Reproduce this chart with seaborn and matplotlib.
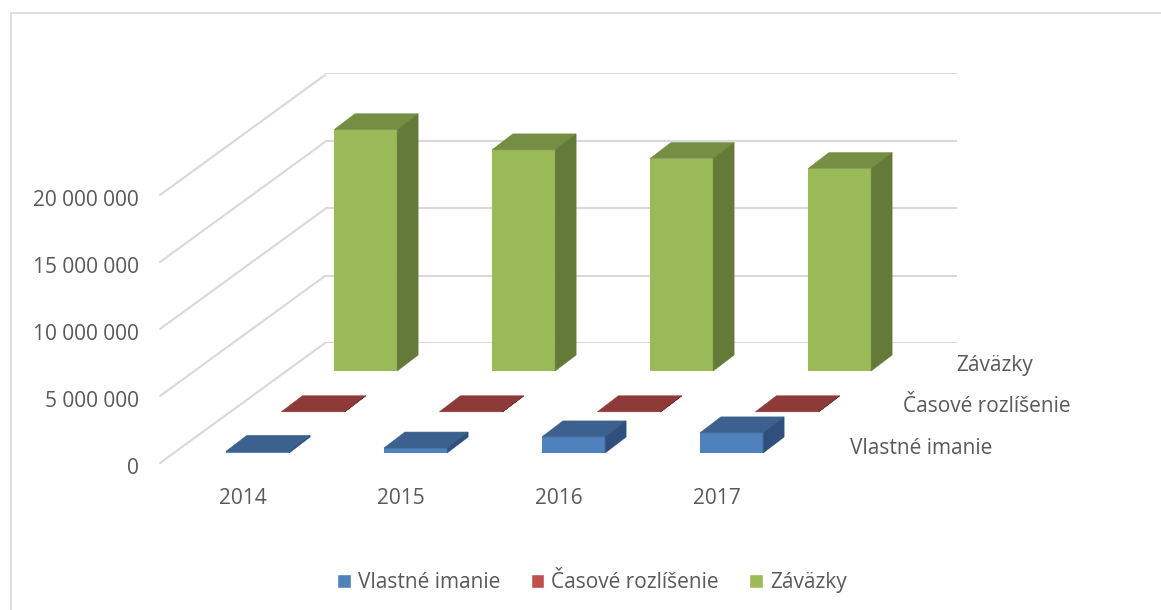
import matplotlib
matplotlib.use("Agg")
import matplotlib.pyplot as plt
from matplotlib.lines import Line2D
from matplotlib.patches import Patch
from matplotlib.transforms import ScaledTranslation
import seaborn as sns

# values
years = ["2014", "2015", "2016", "2017"]
vlastne_imanie = [120000, 370000, 1200000, 1500000]
casove_rozlisenie = [15000, 15000, 15000, 15000]
zavazky = [18000000, 16500000, 15850000, 15100000]
series_names = ["Vlastné imanie", "Časové rozlíšenie", "Záväzky"]
y_ticks = [0, 5000000, 10000000, 15000000, 20000000]

W, H = 1161, 610
TEXT = "#595959"
GRID = "#D9D9D9"
FS = 15

# front, top, side colours per series
colors = [("#4F81BD", "#3C618F", "#2F507C"),
          ("#C0504D", "#8E3A38", "#7A2F2D"),
          ("#9BBB59", "#758E43", "#647A38")]


def px_axes(left, bottom, width, height, **kw):
    # axes placed in pixels, y counted from the top of the image
    return fig.add_axes([left / W, 1 - bottom / H, width / W, height / H], **kw)


def fmt(v):
    return "{:,}".format(v).replace(",", " ")


sns.set_theme(style="white")
plt.rcParams["font.family"] = ["Open Sans", "DejaVu Sans"]

fig = plt.figure(figsize=(W / 100, H / 100), dpi=100)

# outer frame, only top and left fall inside the image
fig.add_artist(Line2D([10.5 / W, 1], [1 - 12.5 / H, 1 - 12.5 / H], color="#E0E0E0", linewidth=1.4))
fig.add_artist(Line2D([10.5 / W, 10.5 / W], [0, 1 - 12.5 / H], color="#E0E0E0", linewidth=1.4))

# back wall plus the axis on the front plane
PLANE_W, PLANE_H = 632, 268
wall = px_axes(325, 343, PLANE_W, 270)
wall.set_xlim(0, 1)
wall.set_ylim(0, 20000000)
wall.axis("off")
wall.hlines(y_ticks, 0, 1, color=GRID, linewidth=1.5)

main = px_axes(160, 463, PLANE_W, PLANE_H)
main.patch.set_alpha(0)
main.set_xlim(-0.5, 3.5)
main.set_ylim(0, 20000000)
for s in main.spines.values():
    s.set_visible(False)
main.set_xticks(range(4))
main.set_xticklabels(years)
main.set_yticks(y_ticks)
main.set_yticklabels([fmt(v) for v in y_ticks])
main.tick_params(axis="both", length=0, labelsize=FS, labelcolor=TEXT)
main.tick_params(axis="y", pad=15)
main.tick_params(axis="x", pad=18)
# labels sit a little off the tick positions in the original
for lbl in main.get_yticklabels():
    lbl.set_transform(lbl.get_transform() + ScaledTranslation(0, -2 / 72, fig.dpi_scale_trans))
for lbl in main.get_xticklabels():
    lbl.set_transform(lbl.get_transform() + ScaledTranslation(3 / 72, 0, fig.dpi_scale_trans))

# side wall lines go from the front plane back to the wall
side = px_axes(160, 463, 165, 390)
side.set_xlim(0, 1)
side.set_ylim(0, 390 / PLANE_H * 20000000)
side.axis("off")
side.patch.set_alpha(0)
for v in y_ticks:
    side.plot([0, 1], [v, v + 120 / PLANE_H * 20000000], color=GRID, linewidth=1.5, clip_on=False)

# one transparent axes per depth row, back row first
rows = [(286.5, 371, zavazky, 2), (234, 412, casove_rozlisenie, 1), (178.5, 453, vlastne_imanie, 0)]
DX = 21 / PLANE_W * 4
DY = 16 / PLANE_H * 20000000

for left, bottom, vals, idx in rows:
    ax = px_axes(left, bottom, PLANE_W, PLANE_H)
    ax.patch.set_alpha(0)
    sns.barplot(x=years, y=vals, color=colors[idx][0], saturation=1, width=0.4, linewidth=0, ax=ax)
    ax.set_xlim(-0.5, 3.5)
    ax.set_ylim(0, 20000000)
    ax.axis("off")
    for bar in ax.patches:
        bar.set_clip_on(False)
        x0, x1 = bar.get_x(), bar.get_x() + bar.get_width()
        h = bar.get_height()
        ax.fill([x0, x1, x1 + DX, x0 + DX], [h, h, h + DY, h + DY], color=colors[idx][1],
                linewidth=0.4, clip_on=False)
        ax.fill([x1, x1 + DX, x1 + DX, x1], [0, DY, h + DY, h], color=colors[idx][2],
                linewidth=0.4, clip_on=False)

# series names along the depth axis
depth_labels = [(995, 366, 2), (987, 406, 1), (921, 448, 0)]
for x, y, idx in depth_labels:
    fig.text(x / W, 1 - y / H, series_names[idx], ha="center", va="center", fontsize=FS, color=TEXT)

handles = [Patch(facecolor=colors[i][0], label=series_names[i]) for i in range(3)]
fig.legend(handles=handles, loc="center", bbox_to_anchor=(592 / W, 1 - 582.5 / H), ncol=3, frameon=False,
           fontsize=FS, labelcolor=TEXT, handlelength=0.65, handleheight=0.65, handletextpad=0.35,
           columnspacing=1.45)

fig.savefig("out.png", dpi=100)
